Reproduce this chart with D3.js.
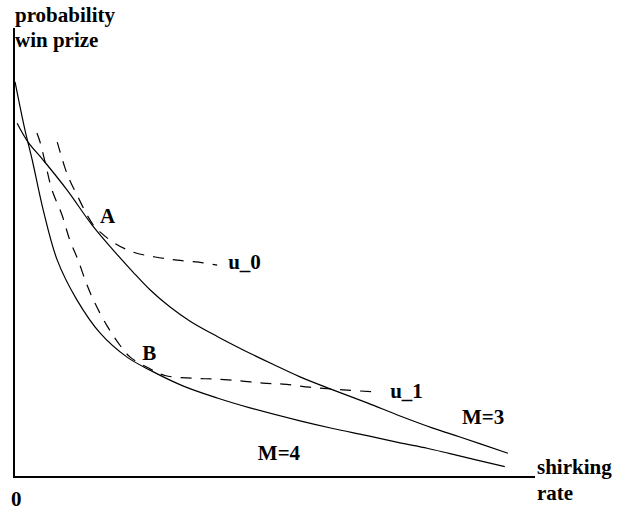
<!DOCTYPE html>
<html>
<head>
<meta charset="utf-8">
<script src="https://cdn.jsdelivr.net/npm/d3@7"></script>
<style>
  body { margin: 0; background: #fff; }
  text { font-family: "Liberation Serif", "Times New Roman", serif; font-weight: bold; font-size: 21px; fill: #000; }
</style>
</head>
<body>
<svg id="chart" width="621" height="512"></svg>
<script>
// constraint curves, [shirking rate, probability] on a 0-100 scale
var m3Curve = [[0.6, 78.8], [2.7, 74.6], [5.6, 70.6], [10.2, 63.9], [15.0, 56.1], [19.0, 50.6], [22.8, 45.7],
  [26.1, 41.7], [29.9, 37.9], [33.8, 34.7], [39.0, 31.3], [44.0, 28.3], [49.7, 25.1], [54.9, 22.3],
  [61.2, 19.4], [67.8, 16.5], [74.1, 13.6], [80.4, 10.9], [85.6, 8.9], [94.8, 5.3]];
var m4Curve = [[0.2, 88.0], [2.1, 77.3], [3.5, 70.6], [5.6, 59.5], [8.3, 48.3], [12.1, 39.4], [16.5, 32.1],
  [21.7, 26.7], [26.1, 23.8], [32.4, 20.3], [39.0, 17.6], [45.3, 15.4], [54.9, 12.5], [61.2, 10.8],
  [67.8, 9.2], [74.1, 7.6], [79.3, 6.4], [83.7, 5.2], [94.2, 2.3]];
// indifference curves (dashed)
var u0Curve = [[8.3, 74.6], [9.8, 68.8], [10.7, 66.1], [12.1, 62.8], [14.0, 58.4], [15.5, 55.7], [16.5, 54.6],
  [19.0, 52.3], [22.8, 50.1], [27.1, 49.0], [31.3, 48.3], [36.3, 47.7], [39.0, 47.2]];
var u1Curve = [[4.4, 76.6], [5.0, 74.6], [6.1, 69.5], [7.3, 63.9], [9.2, 58.4], [10.7, 52.8], [12.3, 48.3],
  [14.0, 42.8], [15.5, 38.8], [17.9, 33.6], [20.3, 29.4], [22.3, 26.7], [26.1, 24.1], [29.0, 22.6],
  [34.2, 22.0], [38.6, 21.8], [43.4, 21.4], [47.8, 20.9], [51.6, 20.7], [56.8, 20.0], [63.2, 19.4], [69.9, 18.9]];

var xTickLabels = ['0'];
var yTitle = ['probability', 'win prize'];
var xTitle = ['shirking', 'rate'];
// label text and the data point it is anchored to
var curveLabels = [
  {text: 'A', x: 16.5, y: 56.6},
  {text: 'u_0', x: 41.1, y: 46.3},
  {text: 'B', x: 24.6, y: 26.1},
  {text: 'u_1', x: 72.2, y: 17.6},
  {text: 'M=3', x: 86.0, y: 11.8},
  {text: 'M=4', x: 46.8, y: 3.8}
];

var svg = d3.select('#chart');
var x = d3.scaleLinear().domain([0, 100]).range([14, 535]);
var y = d3.scaleLinear().domain([0, 100]).range([477, 28]);

var line = d3.line()
  .x(function(d) { return x(d[0]); })
  .y(function(d) { return y(d[1]); })
  .curve(d3.curveCatmullRom.alpha(0.5));

// axes
svg.append('line').attr('x1', x(0)).attr('x2', x(0)).attr('y1', y(0) + 1).attr('y2', y(100))
  .attr('stroke', '#000').attr('stroke-width', 2);
svg.append('line').attr('x1', x(0)).attr('x2', x(100)).attr('y1', y(0)).attr('y2', y(0))
  .attr('stroke', '#000').attr('stroke-width', 2);

var solid = [m3Curve, m4Curve];
svg.selectAll('path.solid').data(solid).enter().append('path')
  .attr('class', 'solid')
  .attr('d', line)
  .attr('fill', 'none')
  .attr('stroke', '#000')
  .attr('stroke-width', 1.2);

var dashed = [u0Curve, u1Curve];
svg.selectAll('path.dashed').data(dashed).enter().append('path')
  .attr('class', 'dashed')
  .attr('d', line)
  .attr('fill', 'none')
  .attr('stroke', '#000')
  .attr('stroke-width', 1.2)
  .attr('stroke-dasharray', '11,9');

svg.selectAll('text.lbl').data(curveLabels).enter().append('text')
  .attr('class', 'lbl')
  .attr('x', function(d) { return x(d.x); })
  .attr('y', function(d) { return y(d.y); })
  .text(function(d) { return d.text; });

svg.append('text').attr('x', 15).attr('y', 22).text(yTitle[0]);
svg.append('text').attr('x', 15).attr('y', 47).text(yTitle[1]);
svg.append('text').attr('x', x(100) + 2).attr('y', 474).text(xTitle[0]);
svg.append('text').attr('x', x(100) + 2).attr('y', 500).text(xTitle[1]);
svg.append('text').attr('x', x(0) - 3).attr('y', 506).text(xTickLabels[0]);
</script>
</body>
</html>
